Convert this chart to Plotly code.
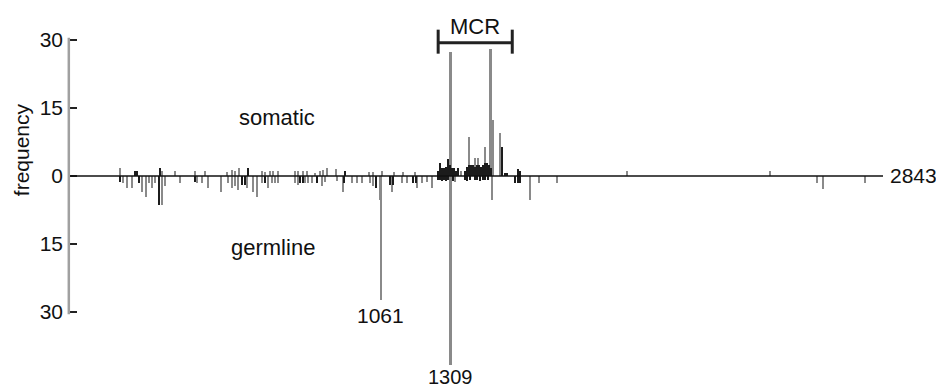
import plotly.graph_objects as go

# ---- data (codon position, frequency) ----
som_gray_codon = [135, 284, 330, 401, 437, 515, 533, 543, 558, 639, 650, 668, 678, 696, 756, 767,
                  785, 799, 827, 845, 856, 870, 902, 1019, 1033, 1065, 1108, 1140, 1183,
                  1309, 1346, 1374, 1396, 1406, 1431, 1450, 1460, 1484, 1935, 2443]
som_gray_val = [1.7, 1.0, 1.0, 1.0, 1.0, 0.8, 1.3, 1.0, 1.7, 1.0, 0.8, 1.0, 1.0, 1.0, 1.0, 1.0,
                1.0, 1.0, 0.6, 1.0, 1.3, 1.7, 1.5, 0.8, 0.8, 1.2, 0.8, 0.8, 0.8,
                27.4, 1.0, 8.5, 3.9, 3.9, 6.5, 28.0, 12.4, 9.4, 1.0, 1.0]

som_black_codon = [188, 195, 277, 589, 934,
                   1264, 1271, 1278, 1285, 1292, 1300, 1306, 1314, 1321, 1328, 1335,
                   1360, 1367, 1374, 1381, 1388, 1395, 1402, 1409, 1416, 1423, 1430, 1437,
                   1444, 1451, 1491, 1502, 1509, 1548, 1555]
som_black_val = [1.0, 1.0, 1.7, 1.7, 1.0,
                 1.0, 2.8, 1.7, 1.7, 2.0, 3.7, 2.5, 1.7, 1.7, 1.2, 1.7,
                 1.0, 2.0, 2.4, 2.4, 2.4, 2.0, 2.4, 2.4, 2.0, 2.4, 2.8, 2.8,
                 2.4, 1.7, 6.5, 0.6, 0.6, 1.5, 1.0]

germ_gray_codon = [146, 160, 178, 213, 227, 238, 249, 259, 284, 295, 348, 408, 426, 447,
                   494, 518, 533, 543, 554, 586, 607, 621, 639, 660, 675, 685, 696, 756,
                   767, 792, 803, 817, 852, 863, 906, 927, 959, 977, 994, 1023, 1033,
                   1058, 1061, 1101, 1136, 1154, 1190, 1207, 1225, 1243, 1309, 1324,
                   1456, 1591, 1623, 1687, 2610, 2631, 2780]
germ_gray_val = [1.6, 2.7, 2.7, 3.6, 4.6, 1.6, 2.7, 1.6, 6.4, 2.3, 1.6, 1.6, 1.6, 2.7,
                 3.5, 1.6, 2.7, 2.3, 3.0, 2.7, 3.5, 4.6, 1.6, 2.7, 1.6, 1.6, 1.6, 1.6,
                 2.0, 1.6, 1.6, 1.6, 2.3, 1.3, 1.2, 3.6, 1.6, 1.6, 1.6, 1.6, 2.3,
                 5.3, 27.4, 3.6, 1.6, 1.6, 2.7, 1.6, 1.25, 2.7, 41.7, 1.25,
                 5.3, 5.3, 1.5, 1.5, 1.5, 2.8, 1.5]

germ_black_codon = [135, 202, 273, 401, 568, 579, 650, 774, 785, 834, 930, 1044, 1094, 1104,
                    1175, 1186, 1264, 1271, 1278, 1285, 1292, 1300, 1316, 1360, 1367, 1378,
                    1396, 1403, 1413, 1424, 1431, 1442, 1538, 1548, 1555]
germ_black_val = [1.3, 1.6, 6.4, 1.3, 2.0, 2.0, 1.6, 1.6, 1.6, 1.6, 1.6, 2.7, 2.0, 2.0,
                  1.6, 1.6, 0.9, 0.9, 1.2, 0.9, 1.2, 0.9, 1.2, 0.9, 1.2, 0.9,
                  0.9, 0.9, 1.2, 0.9, 0.9, 0.9, 1.6, 1.6, 1.6]

y_ticks = [30, 15, 0, -15, -30]
y_tick_labels = ["30", "15", "0", "15", "30"]
protein_length = 2843
mcr_start, mcr_end = 1264, 1527
hotspots = [1061, 1309]

GRAY = "#8a8a8a"
BLACK = "#1c1c1c"
FONT = "Liberation Sans, Arial, sans-serif"

fig = go.Figure()
fig.add_trace(go.Bar(x=som_gray_codon, y=som_gray_val, width=7,
                     marker=dict(color=GRAY, line=dict(width=0))))
fig.add_trace(go.Bar(x=germ_gray_codon, y=[-v for v in germ_gray_val], width=7,
                     marker=dict(color=GRAY, line=dict(width=0))))
fig.add_trace(go.Bar(x=som_black_codon, y=som_black_val, width=8,
                     marker=dict(color=BLACK, line=dict(width=0))))
fig.add_trace(go.Bar(x=germ_black_codon, y=[-v for v in germ_black_val], width=8,
                     marker=dict(color=BLACK, line=dict(width=0))))

shapes = [
    # horizontal axis line
    dict(type="line", xref="paper", x0=0, x1=1, yref="y", y0=0, y1=0,
         line=dict(color="#111", width=1.5), layer="above"),
    # vertical axis line
    dict(type="line", xref="paper", x0=0.001, x1=0.001, yref="y", y0=-30.5, y1=30.5,
         line=dict(color="#a0a0a0", width=2.5), layer="above"),
    # MCR bracket
    dict(type="line", xref="x", x0=mcr_start, x1=mcr_end, yref="y", y0=29.4, y1=29.4,
         line=dict(color="#222", width=3)),
    dict(type="line", xref="x", x0=mcr_start, x1=mcr_start, yref="y", y0=27.0, y1=32.3,
         line=dict(color="#222", width=3)),
    dict(type="line", xref="x", x0=mcr_end, x1=mcr_end, yref="y", y0=27.0, y1=32.3,
         line=dict(color="#222", width=3)),
]

annots = [
    dict(text="MCR", x=(mcr_start + mcr_end) / 2, y=33.1, xref="x", yref="y",
         xanchor="center", yanchor="middle", showarrow=False, font=dict(size=22)),
    dict(text="somatic", x=692, y=12.9, xref="x", yref="y", xanchor="center", yanchor="middle",
         showarrow=False, font=dict(size=22)),
    dict(text="germline", x=676, y=-15.8, xref="x", yref="y", xanchor="center", yanchor="middle",
         showarrow=False, font=dict(size=22)),
    dict(text=str(hotspots[0]), x=hotspots[0], y=-30.9, xref="x", yref="y", xanchor="center",
         yanchor="middle", showarrow=False, font=dict(size=21)),
    dict(text=str(hotspots[1]), x=hotspots[1], y=-44.3, xref="x", yref="y", xanchor="center",
         yanchor="middle", showarrow=False, font=dict(size=20)),
    dict(text=str(protein_length), x=1.0, xref="paper", xanchor="left", xshift=5, y=0, yref="y",
         yanchor="middle", showarrow=False, font=dict(size=21)),
    dict(text="frequency", x=(21 - 68) / 815, xref="paper", xanchor="center", y=5.7, yref="y",
         yanchor="middle", textangle=-90, showarrow=False, font=dict(size=21)),
]

# The page body adds an 8px margin; size the figure so the plot sits where the reference has it.
fig.update_layout(
    width=936, height=382,
    margin=dict(l=60, r=61, t=2, b=0, autoexpand=False),
    paper_bgcolor="white", plot_bgcolor="white",
    barmode="overlay", bargap=0, showlegend=False,
    font=dict(family=FONT, color="#111", size=21),
    xaxis=dict(range=[-50, protein_length], visible=False, fixedrange=True),
    yaxis=dict(range=[-47.24, 36.64], tickvals=y_ticks, ticktext=y_tick_labels,
               ticks="inside", ticklen=9, tickwidth=2, tickcolor="#222",
               showgrid=False, zeroline=False, showline=False,
               tickfont=dict(size=21, family=FONT, color="#111"),
               ticklabelstandoff=4, automargin=False, fixedrange=True),
    shapes=shapes, annotations=annots,
)

fig.write_html("out.html")
